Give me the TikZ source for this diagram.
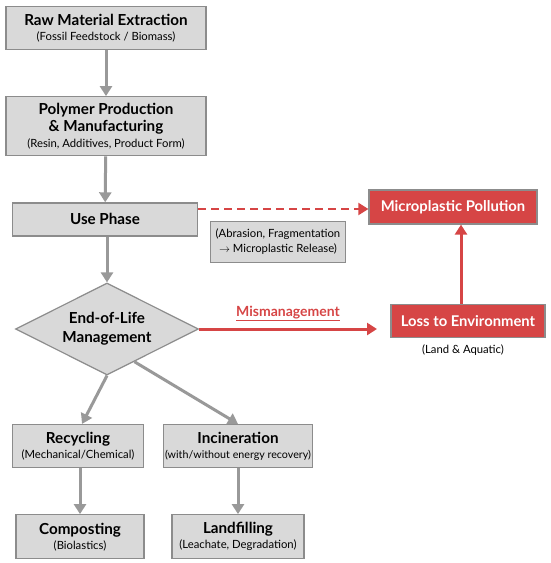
\documentclass[tikz,border=0pt]{standalone}
\usepackage{fontspec}
\setmainfont{Lato}
\usetikzlibrary{positioning,shapes.geometric,arrows.meta}

\definecolor{boxgray}{HTML}{D9D9D9}
\definecolor{linegray}{HTML}{999999}
\definecolor{plasticred}{HTML}{D64545}
\definecolor{edgegray}{HTML}{8C8C8C}

\newcommand{\stagetitle}{\fontsize{15.2}{18.5}\selectfont\bfseries}
\newcommand{\stagenote}{\fontsize{11.3}{15}\selectfont\mdseries}

\begin{document}
\begin{tikzpicture}[
    x=1pt, y=-1pt,
    stage/.style={rectangle, draw=edgegray, line width=1.2pt, fill=boxgray, align=center, inner sep=1pt, font=\stagenote},
    decision/.style={diamond, aspect=2, draw=edgegray, line width=1.2pt, fill=boxgray, align=center, inner sep=0pt, minimum width=183pt, minimum height=92pt, font=\fontsize{15.2}{19}\selectfont\bfseries},
    hazard/.style={rectangle, draw=edgegray, line width=1.2pt, fill=plasticred, text=white, align=center, font=\fontsize{14.8}{17}\selectfont\bfseries},
    flow/.style={-{Triangle[length=10pt,width=12pt]}, line width=3pt, draw=linegray},
    leak/.style={-{Triangle[length=10pt,width=12pt]}, line width=3pt, draw=plasticred},
    shed/.style={-{Triangle[length=10pt,width=12pt]}, line width=2pt, draw=plasticred, dash pattern=on 8pt off 5pt},
    node distance=46pt
]
\useasboundingbox (0,0) rectangle (550,563);

% Life-cycle stages
\node[stage, minimum width=200pt, minimum height=43pt] (raw) at (106,28)
    {\stagetitle Raw Material Extraction\\\stagenote (Fossil Feedstock / Biomass)};
\node[stage, minimum width=200pt, minimum height=59pt, below=46pt of raw] (polymer)
    {\stagetitle Polymer Production\\[1.5pt]\stagetitle\& Manufacturing\\[1pt]\stagenote (Resin, Additives, Product Form)};
\node[stage, minimum width=185pt, minimum height=33pt, below=46pt of polymer, xshift=-1pt] (use)
    {\stagetitle Use Phase};
\node[decision] (eol) at (107,329) {\raisebox{-3pt}{End-of-Life}\\\raisebox{-3pt}{Management}};

% Treatment routes
\node[stage, minimum width=131pt, minimum height=43pt] (recycling) at (78,446)
    {\stagetitle Recycling\\\stagenote (Mechanical/Chemical)};
\node[stage, minimum width=149pt, minimum height=43pt] (incineration) at (238,446)
    {\stagetitle Incineration\\\fontsize{10.7}{15}\selectfont (with/without energy recovery)};
\node[stage, minimum width=128pt, minimum height=44pt, below=46pt of recycling, xshift=2pt] (composting)
    {\stagetitle Composting\\\stagenote (Biolastics)};
\node[stage, minimum width=132pt, minimum height=44pt, below=46pt of incineration] (landfill)
    {\stagetitle Landfilling\\\stagenote (Leachate, Degradation)};

% Leakage to environment
\node[hazard, minimum width=168pt, minimum height=34pt] (micro) at (453,207) {Microplastic Pollution};
\node[hazard, minimum width=154pt, minimum height=33pt] (loss) at (468,321) {Loss to Environment};
\node[below=3pt of loss, xshift=-5pt, font=\stagenote] (lossnote) {(Land \& Aquatic)};
\node[stage, minimum width=135pt, minimum height=41pt] (release) at (278,242)
    {(Abrasion, Fragmentation\\$\rightarrow$ Microplastic Release)};

% Main flow
\draw[flow] (raw) -- (polymer);
\draw[flow] (polymer) -- (use);
\draw[flow] (use.south -| eol.north) -- (eol.north);
\draw[flow] (eol.south) -- (recycling.north -| 82,0);
\draw[flow] (eol.-50) -- (incineration.north);
\draw[flow] (recycling.south -| composting.north) -- (composting);
\draw[flow] (incineration) -- (landfill);

% Red paths
\draw[shed] (use.east |- 0,209) -- (micro.west |- 0,209);
\draw[leak] (eol.east) -- node[above=3pt, text=plasticred, font=\fontsize{14}{16}\selectfont\bfseries] (mislabel) {\underline{Mismanagement}} (eol.east -| 377,0);
\draw[leak] (loss.north -| 461,0) -- (micro.south -| 461,0);

\end{tikzpicture}
\end{document}
